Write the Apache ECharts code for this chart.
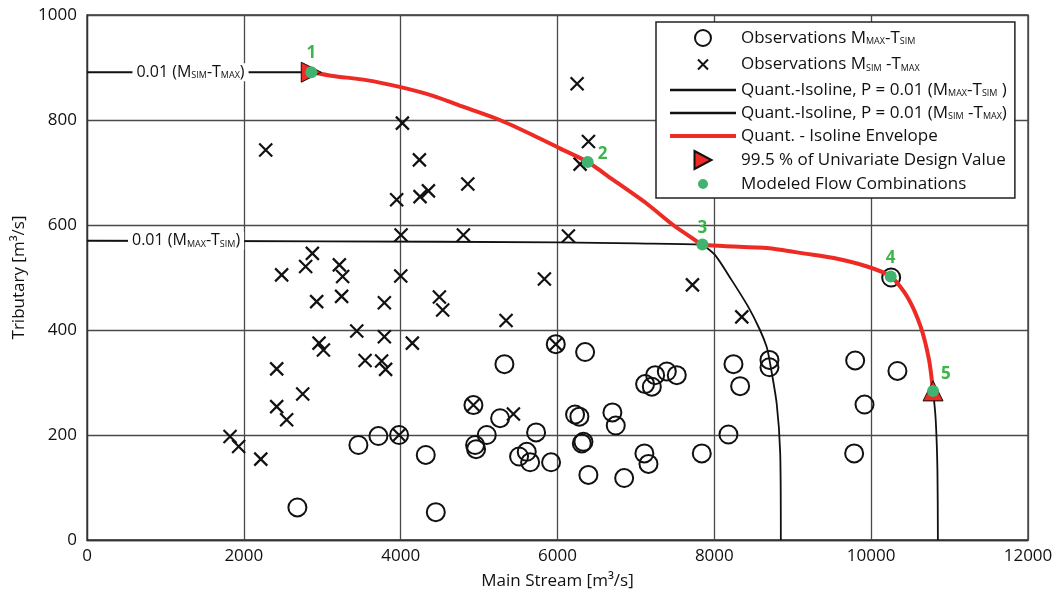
<!DOCTYPE html>
<html><head><meta charset="utf-8">
<script src="https://cdn.jsdelivr.net/npm/echarts@6/dist/echarts.min.js"></script>
<style>html,body{margin:0;padding:0;background:#fff}#c{width:1056px;height:596px}</style>
</head><body><div id="c"></div>
<script>
// Observations M_MAX - T_SIM (circles)
const obsMaxTsim = [
  [2683,62],[4448,53],[3461,181],[3716,198],[3980,200],[4320,162],[4928,257],
  [5323,335],[5268,232],[5098,200],[4949,181],[4962,173],[5727,205],[5510,159],
  [5608,168],[5651,148],[5918,148],[5978,373],[6352,358],[6224,239],[6279,235],
  [6310,184],[6331,187],[6394,124],[6700,243],[6743,218],[6850,118],[7117,297],
  [7203,292],[7245,314],[7394,321],[7521,314],[7108,165],[7160,145],[7840,165],
  [8180,201],[8244,335],[8329,293],[8703,343],[8703,329],[9796,342],[9783,165],
  [9915,258],[10335,322],[10255,500]
];
// Observations M_SIM - T_MAX (crosses)
const obsSimTmax = [
  [4022,794],[2279,743],[4239,724],[3949,648],[4247,654],[4354,665],[4856,678],
  [6250,869],[6395,759],[6288,716],[4005,581],[4800,581],[6139,579],[2874,546],
  [2788,521],[2482,505],[3218,524],[3260,502],[4001,503],[5833,497],[7721,486],
  [2929,454],[3247,464],[3792,452],[4494,463],[4536,438],[3440,398],[3792,387],
  [4149,375],[2959,375],[3015,362],[3546,342],[3757,341],[3808,325],[2419,326],
  [5344,418],[2751,278],[2419,254],[2546,229],[1824,197],[1934,178],[2216,154],
  [5438,240],[8350,425],[3980,200],[4928,257],[5978,373]
];
// Quantile isoline P = 0.01 (M_SIM - T_MAX)
const isoSimTmax = [
  [0,891],[1500,891],[2860,891],[3136,884],[3562,876],[3987,863],[4412,846],
  [4839,823],[5264,800],[5689,771],[6030,746],[6385,720],[6710,686],[7136,641],
  [7475,600],[7689,578],[7848,563],[8008,543],[8221,495],[8433,444],[8582,400],
  [8667,368],[8703,343],[8795,260],[8840,165],[8848,0]
];
// Quantile isoline P = 0.01 (M_MAX - T_SIM)
const isoMaxTsim = [
  [0,570],[3000,569],[6000,567],[7000,565],[7848,563],[8114,560],[8675,556],
  [9178,545],[9523,537],[9948,521],[10249,502],[10462,463],[10632,406],
  [10738,343],[10789,284],[10823,229],[10845,133],[10851,0]
];
// Quantile isoline envelope
const envelope = [
  [2860,891],[3136,884],[3562,876],[3987,863],[4412,846],[4839,823],[5264,800],
  [5689,771],[6030,746],[6385,720],[6710,686],[7136,641],[7475,600],[7689,578],
  [7848,563],[8114,560],[8675,556],[9178,545],[9523,537],[9948,521],[10249,502],
  [10462,463],[10632,406],[10738,343],[10789,284]
];
// 99.5 % univariate design values (with marker rotation)
const designValues = [[2860,891],[10789,284]];
const designRotate = [-90, 0];
// Modeled flow combinations
const modeled = [[2860,891],[6385,720],[7848,563],[10249,502],[10789,284]];
const modeledNames = ['1','2','3','4','5'];
// Isoline annotations
const isoLabelPts = [[1320,891],[1263,570]];
const isoLabelTexts = ['0.01 (M{s|SIM}-T{s|MAX})','0.01 (M{s|MAX}-T{s|SIM})'];
// Axis ticks
const xTickStep = 2000, yTickStep = 200;

const FONT = 'Open Sans';
const legendText = {
  'Observations M_MAX-T_SIM': 'Observations M{s|MAX}-T{s|SIM}',
  'Observations M_SIM-T_MAX': 'Observations M{s|SIM} -T{s|MAX}',
  'Quant.-Isoline, P = 0.01 (M_MAX-T_SIM)': 'Quant.-Isoline, P = 0.01 (M{s|MAX}-T{s|SIM} )',
  'Quant.-Isoline, P = 0.01 (M_SIM-T_MAX)': 'Quant.-Isoline, P = 0.01 (M{s|SIM} -T{s|MAX})',
  'Quant. - Isoline Envelope': 'Quant. - Isoline Envelope',
  '99.5 % of Univariate Design Value': '99.5 % of Univariate Design Value',
  'Modeled Flow Combinations': 'Modeled Flow Combinations'
};
const subRich = {
  s: {fontSize: 9, fontFamily: FONT, color: '#111', padding: [7,0,0,0]}
};
const modeledLabelCfg = [
  {position: 'top', distance: 5},
  {position: 'right', distance: 4, offset: [0, -8]},
  {position: 'top', distance: 2},
  {position: 'top', distance: 4},
  {position: 'right', distance: 2, offset: [0, -17]}
];

const chart = echarts.init(document.getElementById('c'), null, {renderer: 'canvas'});
const RED = '#ee2a24', GREEN = '#3fb36f', LBLGREEN = '#3db54a';
const CROSS = 'path://M0,0L10,10M10,0L0,10';
const hideSym = {opacity: 0};

chart.setOption({
  animation: false,
  backgroundColor: '#fff',
  textStyle: {fontFamily: FONT},
  grid: {left: 87, right: 28, top: 15, bottom: 56, show: true, borderColor: '#333', borderWidth: 1.3},
  xAxis: {
    type: 'value', min: 0, max: 12000, interval: xTickStep,
    name: 'Main Stream [m³/s]', nameLocation: 'middle', nameGap: 33,
    nameTextStyle: {fontSize: 17, color: '#111', fontFamily: FONT},
    axisLine: {lineStyle: {color: '#333', width: 1.3}},
    axisTick: {show: false},
    axisLabel: {fontSize: 17, color: '#111', margin: 8, fontFamily: FONT, formatter: v => String(v)},
    splitLine: {lineStyle: {color: '#4a4a4a', width: 1.3}}
  },
  yAxis: {
    type: 'value', min: 0, max: 1000, interval: yTickStep,
    name: 'Tributary [m³/s]', nameLocation: 'middle', nameGap: 54,
    nameTextStyle: {fontSize: 17, color: '#111', fontFamily: FONT},
    axisLine: {lineStyle: {color: '#333', width: 1.3}},
    axisTick: {show: false},
    axisLabel: {fontSize: 17, color: '#111', margin: 10, fontFamily: FONT, formatter: v => String(v)},
    splitLine: {lineStyle: {color: '#4a4a4a', width: 1.3}}
  },
  legend: {
    orient: 'vertical', left: 656, top: 22,
    backgroundColor: '#fff', borderColor: '#222', borderWidth: 1.5,
    padding: [6, 8, 5, 12], itemGap: 5, itemWidth: 66, itemHeight: 18,
    symbolKeepAspect: true,
    selectedMode: false,
    textStyle: {fontSize: 17, lineHeight: 18, color: '#111', fontFamily: FONT, rich: subRich},
    formatter: n => legendText[n] || n,
    data: [
      {name: 'Observations M_MAX-T_SIM', icon: 'path://M0,0L0.01,0.01M9,1A8,8,0,1,0,9,17A8,8,0,1,0,9,1ZM18,18L18.01,18.01'},
      {name: 'Observations M_SIM-T_MAX', icon: 'path://M0,0L0.01,0.01M4,4L14,14M14,4L4,14M18,18L18.01,18.01'},
      {name: 'Quant.-Isoline, P = 0.01 (M_MAX-T_SIM)', itemStyle: hideSym, lineStyle: {width: 2.5, color: '#111'}},
      {name: 'Quant.-Isoline, P = 0.01 (M_SIM-T_MAX)', itemStyle: hideSym, lineStyle: {width: 2.5, color: '#111'}},
      {name: 'Quant. - Isoline Envelope', itemStyle: hideSym, lineStyle: {width: 4, color: RED}},
      {name: '99.5 % of Univariate Design Value', icon: 'path://M1,0L18,9L1,18Z'},
      {name: 'Modeled Flow Combinations', icon: 'path://M0,0L0.01,0.01M9,4A5,5,0,1,0,9,14A5,5,0,1,0,9,4ZM18,18L18.01,18.01'}
    ]
  },
  series: [
    {
      name: 'Quant.-Isoline, P = 0.01 (M_MAX-T_SIM)', type: 'line', data: isoMaxTsim,
      symbol: 'none', smooth: 0.25, lineStyle: {color: '#111', width: 1.8}, itemStyle: {color: '#111'}, z: 3
    },
    {
      name: 'Quant.-Isoline, P = 0.01 (M_SIM-T_MAX)', type: 'line', data: isoSimTmax,
      symbol: 'none', smooth: 0.25, lineStyle: {color: '#111', width: 1.8}, itemStyle: {color: '#111'}, z: 3
    },
    {
      name: 'Observations M_MAX-T_SIM', type: 'scatter', data: obsMaxTsim,
      symbol: 'circle', symbolSize: 18,
      itemStyle: {color: 'rgba(255,255,255,0)', borderColor: '#111', borderWidth: 2, opacity: 1}, z: 4
    },
    {
      name: 'Observations M_SIM-T_MAX', type: 'scatter', data: obsSimTmax,
      symbol: CROSS, symbolSize: 13,
      itemStyle: {color: 'none', borderColor: '#111', borderWidth: 2.2, opacity: 1}, z: 4
    },
    {
      name: 'Quant. - Isoline Envelope', type: 'line', data: envelope,
      symbol: 'none', smooth: 0.25, lineStyle: {color: RED, width: 4}, itemStyle: {color: RED}, z: 5
    },
    {
      name: '99.5 % of Univariate Design Value', type: 'scatter',
      data: designValues.map((p, i) => ({value: p, symbolRotate: designRotate[i]})),
      symbol: 'triangle', symbolSize: 20,
      itemStyle: {color: RED, borderColor: '#111', borderWidth: 1, opacity: 1}, z: 6
    },
    {
      name: 'Modeled Flow Combinations', type: 'scatter',
      data: modeled.map((p, i) => ({value: p, name: modeledNames[i], label: modeledLabelCfg[i]})),
      symbol: 'circle', symbolSize: 12,
      itemStyle: {color: GREEN, opacity: 1}, z: 7,
      label: {show: true, formatter: p => p.name, color: LBLGREEN, fontWeight: 'bold', fontSize: 17, fontFamily: FONT}
    },
    {
      name: 'isoLabels', type: 'scatter', symbolSize: 0, silent: true,
      itemStyle: {opacity: 1},
      data: isoLabelPts.map((p, i) => ({value: p, name: isoLabelTexts[i]})),
      label: {show: true, position: 'inside', formatter: p => p.name, fontSize: 16, color: '#111',
        backgroundColor: '#fff', padding: [1, 4], fontFamily: FONT, rich: subRich},
      z: 8
    }
  ]
});
</script></body></html>
